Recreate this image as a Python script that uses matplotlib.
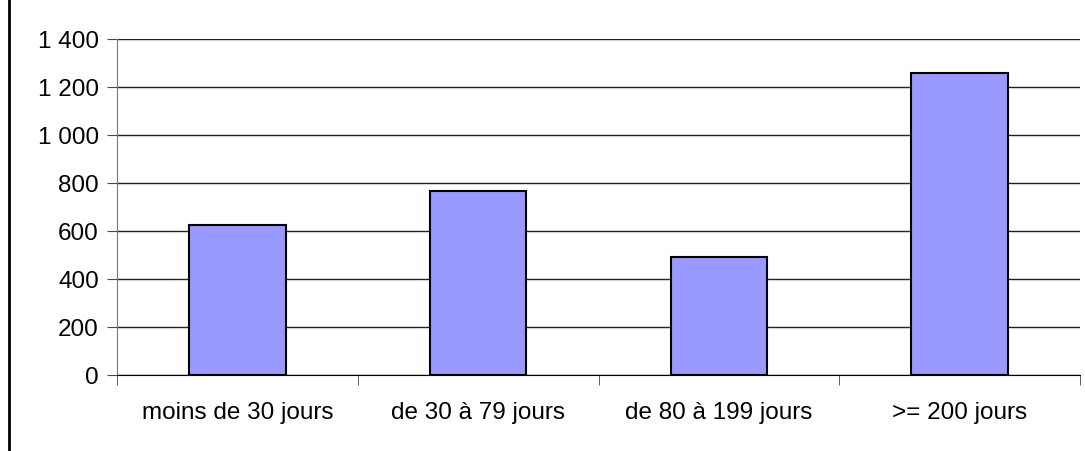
import matplotlib
matplotlib.use("Agg")
import matplotlib.pyplot as plt
from matplotlib.lines import Line2D
from matplotlib.ticker import FuncFormatter, MultipleLocator

categories = ["moins de 30 jours", "de 30 à 79 jours", "de 80 à 199 jours", ">= 200 jours"]
counts = [626, 767, 493, 1260]

plt.rcParams["font.family"] = ["Liberation Sans", "DejaVu Sans"]

fig = plt.figure(figsize=(10.85, 4.52), dpi=100)
ax = fig.add_axes([117 / 1085, 76 / 452, 963 / 1085, 336 / 452])

x = list(range(len(categories)))
ax.bar(x, counts, width=0.4, color="#9999FF", edgecolor="black", linewidth=1.5, zorder=3)

ax.set_xlim(-0.5, len(categories) - 0.5)
ax.set_ylim(0, 1400)
ax.yaxis.set_major_locator(MultipleLocator(200))
ax.yaxis.set_major_formatter(FuncFormatter(lambda v, _: f"{int(v):,}".replace(",", " ")))
ax.grid(axis="y", color="#222222", linewidth=1, zorder=1)

# category labels centred, ticks on the boundaries
ax.set_xticks(x)
ax.set_xticklabels(categories)
ax.set_xticks([i - 0.5 for i in range(len(categories) + 1)], minor=True)
ax.tick_params(axis="x", which="major", length=0, pad=19, labelsize=17.5)
ax.tick_params(axis="x", which="minor", length=7, direction="out", color="#444444")
ax.tick_params(axis="y", length=7, direction="out", color="#444444", pad=6, labelsize=17.5)

for side in ["top", "right"]:
    ax.spines[side].set_visible(False)
ax.spines["left"].set_color("#777777")
ax.spines["bottom"].set_color("black")

# outer chart frame, only its left edge is visible
fig.add_artist(Line2D([9 / 1085, 9 / 1085], [0, 1], transform=fig.transFigure,
                      color="black", linewidth=2))

fig.savefig("out.png", dpi=100)
